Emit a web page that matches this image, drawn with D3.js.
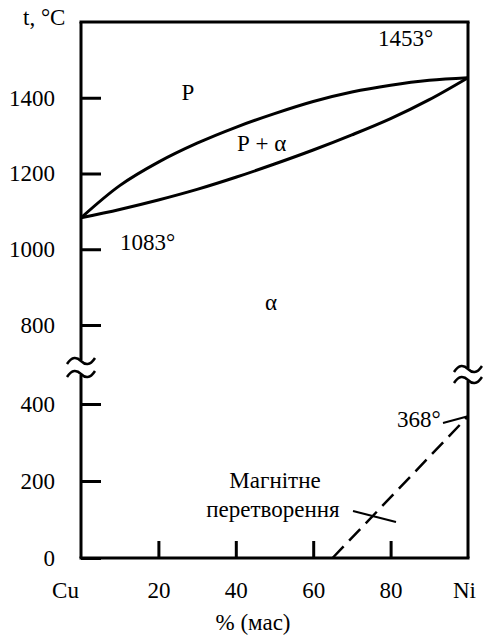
<!DOCTYPE html>
<html>
<head>
<meta charset="utf-8">
<script src="https://cdn.jsdelivr.net/npm/d3@7/dist/d3.min.js"></script>
<style>
  html, body { margin: 0; padding: 0; background: #fff; }
  svg { display: block; }
</style>
</head>
<body>
<svg id="chart" width="483" height="637"></svg>
<script>
// Cu–Ni equilibrium diagram (mass % Ni vs temperature, °C)
const composition = [0, 10, 20, 30, 40, 50, 60, 70, 80, 90, 100];
const liquidus    = [1083, 1168, 1230, 1280, 1322, 1358, 1390, 1415, 1433, 1446, 1453];
const solidus     = [1083, 1105, 1130, 1158, 1190, 1225, 1262, 1302, 1345, 1395, 1453];

// Curie line (magnetic transformation)
const curieComposition = [65, 100];
const curieTemperature = [0, 368];

const xTicks = [0, 20, 40, 60, 80, 100];
const xTickLabels = ["Cu", "20", "40", "60", "80", "Ni"];
const yTicks = [0, 200, 400, 800, 1000, 1200, 1400];

(function () {
  const SERIF = "'Liberation Serif', 'Times New Roman', Tinos, serif";
  const FONT = 23;
  const svg = d3.select("#chart").attr("font-family", SERIF);

  const x = d3.scaleLinear().domain([0, 100]).range([81, 468]);
  // broken temperature axis: 400–800 °C compressed into the break zone
  const y = d3.scaleLinear().domain([0, 400, 800, 1600]).range([558, 404, 325, 22]);

  // axes with inward ticks
  const yAxis = d3.axisLeft(y).tickValues(yTicks).tickFormat(d3.format("d"))
    .tickSizeInner(-20).tickSizeOuter(0).tickPadding(26);
  const gy = svg.append("g").attr("transform", `translate(${x(0)},0)`).call(yAxis)
    .attr("font-family", SERIF).attr("font-size", FONT);
  gy.select(".domain").remove();
  gy.selectAll(".tick line").attr("stroke", "#000").attr("stroke-width", 3);
  gy.selectAll(".tick text").attr("fill", "#000");

  const xAxis = d3.axisBottom(x).tickValues(xTicks).tickSizeInner(-17).tickSizeOuter(0).tickPadding(24)
    .tickFormat((d, i) => xTickLabels[i]);
  const gx = svg.append("g").attr("transform", `translate(0,${y(0)})`).call(xAxis)
    .attr("font-family", SERIF).attr("font-size", FONT);
  gx.select(".domain").remove();
  gx.selectAll(".tick line").attr("stroke", "#000").attr("stroke-width", 3)
    .filter(d => d === 0 || d === 100).remove();
  gx.selectAll(".tick text").attr("fill", "#000")
    .attr("dx", d => d === 0 ? -16 : d === 100 ? -4 : 0);

  // frame with breaks on both vertical sides
  const frame = svg.append("g").attr("stroke", "#000").attr("stroke-width", 3)
    .attr("stroke-linecap", "square").attr("fill", "none");
  const yTop = y(1600), yBottom = y(0);
  frame.append("line").attr("x1", x(0)).attr("x2", x(100)).attr("y1", yTop).attr("y2", yTop);
  frame.append("line").attr("x1", x(0)).attr("x2", x(100)).attr("y1", yBottom).attr("y2", yBottom);

  const leftBreak = [361, 374];
  const rightBreak = [369, 380];
  frame.append("line").attr("x1", x(0)).attr("x2", x(0)).attr("y1", yTop).attr("y2", leftBreak[0] - 1).attr("stroke-linecap", "butt");
  frame.append("line").attr("x1", x(0)).attr("x2", x(0)).attr("y1", leftBreak[1] + 1).attr("y2", yBottom).attr("stroke-linecap", "butt");
  frame.append("line").attr("x1", x(100)).attr("x2", x(100)).attr("y1", yTop).attr("y2", rightBreak[0] - 1).attr("stroke-linecap", "butt");
  frame.append("line").attr("x1", x(100)).attr("x2", x(100)).attr("y1", rightBreak[1] + 1).attr("y2", yBottom).attr("stroke-linecap", "butt");

  function tilde(cx, cy) {
    return `M${cx - 14},${cy + 3} C${cx - 9},${cy - 5} ${cx - 4},${cy - 4} ${cx},${cy} S${cx + 9},${cy + 5} ${cx + 14},${cy - 3}`;
  }
  const squig = svg.append("g").attr("stroke", "#000").attr("stroke-width", 2.5).attr("fill", "none");
  leftBreak.forEach(c => squig.append("path").attr("d", tilde(x(0), c)));
  rightBreak.forEach(c => squig.append("path").attr("d", tilde(x(100), c)));

  // liquidus and solidus
  const line = d3.line().x(d => x(d[0])).y(d => y(d[1])).curve(d3.curveCatmullRom.alpha(0.5));
  svg.append("path").datum(composition.map((c, i) => [c, liquidus[i]]))
    .attr("d", line).attr("fill", "none").attr("stroke", "#000").attr("stroke-width", 3);
  svg.append("path").datum(composition.map((c, i) => [c, solidus[i]]))
    .attr("d", line).attr("fill", "none").attr("stroke", "#000").attr("stroke-width", 3);

  // magnetic transformation (dashed)
  const curie = curieComposition.map((c, i) => [c, curieTemperature[i]]);
  svg.append("path").datum(curie).attr("d", d3.line().x(d => x(d[0])).y(d => y(d[1])))
    .attr("fill", "none").attr("stroke", "#000").attr("stroke-width", 2.5).attr("stroke-dasharray", "16,8");

  // leader lines
  const leaders = svg.append("g").attr("stroke", "#000").attr("stroke-width", 2);
  leaders.append("line").attr("x1", 443).attr("y1", 423).attr("x2", x(100)).attr("y2", y(368));
  leaders.append("line").attr("x1", 353).attr("y1", 511).attr("x2", 396).attr("y2", 522);

  // texts
  function label(t, px, py, anchor) {
    svg.append("text").attr("x", px).attr("y", py)
      .attr("font-family", SERIF).attr("font-size", FONT).attr("fill", "#000")
      .attr("text-anchor", anchor || "start").text(t);
  }
  label("t, °C", 23, 25);
  label("1453°", 378, 46);
  label("1083°", 120, 250);
  label("368°", 397, 427);
  label("Р", 188, 100, "middle");
  label("Р + α", 237, 151);
  label("α", 271, 310, "middle");
  label("Магнітне", 275, 488, "middle");
  label("перетворення", 273, 517, "middle");
  label("% (мас)", 253, 630, "middle");
})();
</script>
</body>
</html>
